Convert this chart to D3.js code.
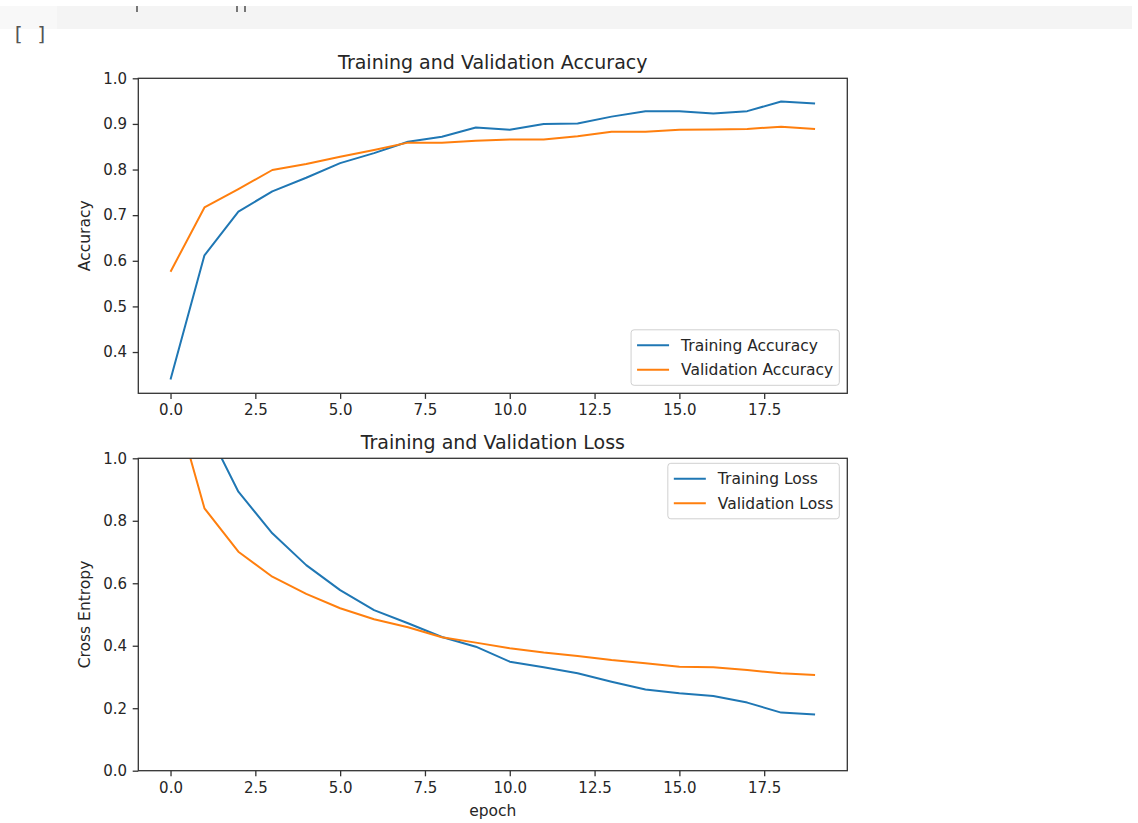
<!DOCTYPE html>
<html>
<head>
<meta charset="utf-8">
<title>Training and Validation</title>
<script src="https://cdn.jsdelivr.net/npm/d3@7/dist/d3.min.js"></script>
<style>
  body { margin: 0; background: #fff; }
  text { font-family: "DejaVu Sans", sans-serif; fill: #262626; }
  .axis path, .axis line { stroke: #333; }
</style>
</head>
<body>
<div id="chart"></div>
<script>
// values
var epochs = [0, 1, 2, 3, 4, 5, 6, 7, 8, 9, 10, 11, 12, 13, 14, 15, 16, 17, 18, 19];
var trainAcc = [0.340, 0.612, 0.708, 0.752, 0.782, 0.814, 0.836, 0.861, 0.872, 0.892,
                0.887, 0.900, 0.901, 0.916, 0.928, 0.928, 0.923, 0.928, 0.949, 0.945];
var valAcc = [0.576, 0.717, 0.757, 0.799, 0.812, 0.828, 0.843, 0.859, 0.859, 0.863,
              0.866, 0.866, 0.873, 0.883, 0.883, 0.887, 0.888, 0.889, 0.894, 0.889];
var trainLoss = [1.85, 1.11, 0.893, 0.760, 0.658, 0.578, 0.514, 0.472, 0.428, 0.397,
                 0.349, 0.331, 0.312, 0.285, 0.260, 0.248, 0.239, 0.218, 0.186, 0.180];
var valLoss = [1.226, 0.840, 0.701, 0.621, 0.566, 0.520, 0.485, 0.459, 0.427, 0.410,
               0.392, 0.378, 0.367, 0.354, 0.344, 0.333, 0.331, 0.322, 0.312, 0.306];
var xTicks = [0, 2.5, 5, 7.5, 10, 12.5, 15, 17.5];
var accTicks = [0.4, 0.5, 0.6, 0.7, 0.8, 0.9, 1.0];
var lossTicks = [0, 0.2, 0.4, 0.6, 0.8, 1.0];

var width = 1138, height = 823;
var blue = "#1f77b4", orange = "#ff7f0e";
var left = 138.3, right = 847.3;

var svg = d3.select("#chart").append("svg")
    .attr("width", width)
    .attr("height", height);

// notebook cell chrome (previous cell's bottom edge + run marker)
svg.append("rect")
    .attr("x", 0).attr("y", 6)
    .attr("width", 1132).attr("height", 23)
    .attr("fill", "#f4f4f4");
svg.append("rect")
    .attr("x", 0).attr("y", 6)
    .attr("width", 57).attr("height", 23)
    .attr("fill", "#f8f8f8");
[136, 236, 244].forEach(function(px) {
  svg.append("rect")
    .attr("x", px).attr("y", 6)
    .attr("width", 2).attr("height", 6)
    .attr("fill", "#777");
});
svg.append("text")
    .attr("x", 12).attr("y", 41)
    .style("font-family", "'DejaVu Sans Mono', monospace")
    .style("font-size", "20px")
    .style("fill", "#555")
    .text("[ ]");

// x extent like matplotlib: 5% margin
var xPad = (d3.max(epochs) - d3.min(epochs)) * 0.05;
var x = d3.scaleLinear()
    .domain([d3.min(epochs) - xPad, d3.max(epochs) + xPad])
    .range([left, right]);

var accAll = trainAcc.concat(valAcc);
var accLo = d3.min(accAll) - 0.05 * (d3.max(accAll) - d3.min(accAll));

function drawPanel(o) {
  var y = d3.scaleLinear().domain(o.yDomain).range([o.bottom, o.top]);
  var g = svg.append("g");

  g.append("clipPath").attr("id", o.id)
    .append("rect")
    .attr("x", left).attr("y", o.top)
    .attr("width", right - left).attr("height", o.bottom - o.top);

  var line = d3.line()
      .x(function(d, i) { return x(epochs[i]); })
      .y(function(d) { return y(d); });

  g.append("g").attr("clip-path", "url(#" + o.id + ")")
    .selectAll("path")
    .data(o.series)
    .enter().append("path")
    .attr("d", function(s) { return line(s.values); })
    .attr("fill", "none")
    .attr("stroke", function(s) { return s.color; })
    .attr("stroke-width", 2)
    .attr("stroke-linejoin", "round");

  // axes
  var xa = g.append("g").attr("class", "axis")
      .attr("transform", "translate(0," + o.bottom + ")")
      .call(d3.axisBottom(x).tickValues(xTicks).tickFormat(d3.format(".1f"))
        .tickSize(5.6).tickPadding(5.6));
  var ya = g.append("g").attr("class", "axis")
      .attr("transform", "translate(" + left + ",0)")
      .call(d3.axisLeft(y).tickValues(o.yTicks).tickFormat(d3.format(".1f"))
        .tickSize(5.6).tickPadding(5.6));
  [xa, ya].forEach(function(a) {
    a.select(".domain").remove();
    a.selectAll("text").style("font-size", "15px").style("font-family", "'DejaVu Sans', sans-serif");
    a.selectAll("line").attr("stroke-width", 1.3);
  });

  // frame
  g.append("rect")
    .attr("x", left).attr("y", o.top)
    .attr("width", right - left).attr("height", o.bottom - o.top)
    .attr("fill", "none").attr("stroke", "#333").attr("stroke-width", 1.3);

  g.append("text")
    .attr("x", (left + right) / 2).attr("y", o.top - 9.5)
    .attr("text-anchor", "middle")
    .style("font-size", "19px")
    .text(o.title);

  g.append("text")
    .attr("transform", "translate(" + o.ylabelX + "," + ((o.top + o.bottom) / 2) + ") rotate(-90)")
    .attr("text-anchor", "middle")
    .style("font-size", "15.5px")
    .text(o.ylabel);

  if (o.xlabel) {
    g.append("text")
      .attr("x", (left + right) / 2).attr("y", o.bottom + 45)
      .attr("text-anchor", "middle")
      .style("font-size", "15.5px")
      .text(o.xlabel);
  }

  // legend
  var leg = g.append("g");
  var box = leg.append("rect")
      .attr("fill", "#fff").attr("fill-opacity", 0.8)
      .attr("stroke", "#d0d0d0").attr("rx", 3);
  var items = leg.selectAll(".item")
      .data(o.series)
      .enter().append("g").attr("class", "item")
      .attr("transform", function(s, i) { return "translate(0," + (i * 24.5) + ")"; });
  items.append("line")
      .attr("x1", 0).attr("x2", 32)
      .attr("stroke", function(s) { return s.color; })
      .attr("stroke-width", 2);
  var labels = items.append("text")
      .attr("x", 44).attr("dy", "0.35em")
      .style("font-size", "15.5px")
      .text(function(s) { return s.name; });
  var tw = d3.max(labels.nodes(), function(n) { return n.getComputedTextLength(); });
  var bw = 44 + tw + 12, bh = 24.5 * (o.series.length - 1) + 31;
  box.attr("x", -6).attr("y", -15.5).attr("width", bw).attr("height", bh);
  var lx = right - 8 - bw + 6;
  var ly = o.legendPos === "lower" ? o.bottom - 8 - bh + 15.5 : o.top + 5 + 15.5;
  leg.attr("transform", "translate(" + lx + "," + ly + ")");
}

drawPanel({
  id: "clipAcc", top: 78.3, bottom: 393.3,
  yDomain: [accLo, 1.0], yTicks: accTicks,
  title: "Training and Validation Accuracy", ylabel: "Accuracy", ylabelX: 90,
  legendPos: "lower",
  series: [
    {name: "Training Accuracy", values: trainAcc, color: blue},
    {name: "Validation Accuracy", values: valAcc, color: orange}
  ]
});

drawPanel({
  id: "clipLoss", top: 458.3, bottom: 770.7,
  yDomain: [0, 1.0], yTicks: lossTicks,
  title: "Training and Validation Loss", ylabel: "Cross Entropy", ylabelX: 90,
  xlabel: "epoch",
  legendPos: "upper",
  series: [
    {name: "Training Loss", values: trainLoss, color: blue},
    {name: "Validation Loss", values: valLoss, color: orange}
  ]
});
</script>
</body>
</html>
